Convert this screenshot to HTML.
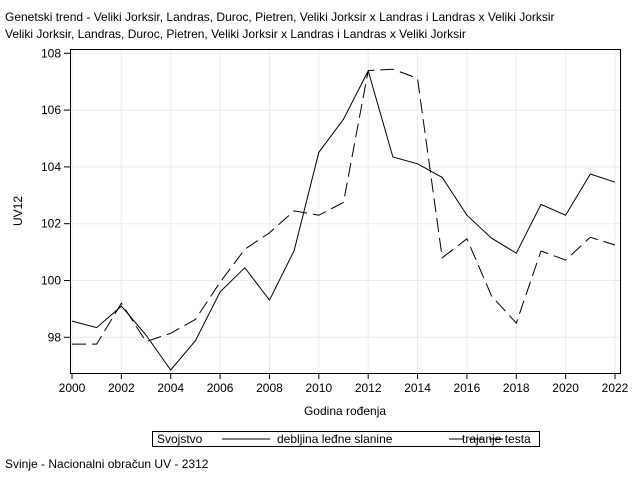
<!DOCTYPE html>
<html><head><meta charset="utf-8"><style>
body{margin:0;background:#fff;font-family:"Liberation Sans",sans-serif;}
svg text{font-family:"Liberation Sans",sans-serif;fill:#000;}
</style></head><body>
<svg id="chart" width="640" height="480" xmlns="http://www.w3.org/2000/svg">
<text x="5" y="21" font-size="12">Genetski trend - Veliki Jorksir, Landras, Duroc, Pietren, Veliki Jorksir x Landras i Landras x Veliki Jorksir</text>
<text x="5" y="38" font-size="12">Veliki Jorksir, Landras, Duroc, Pietren, Veliki Jorksir x Landras i Landras x Veliki Jorksir</text>
<g id="grid"></g>
<g id="series"></g>
<rect x="70.5" y="49.5" width="550" height="324" fill="none" stroke="#000" stroke-width="1"/>
<g id="xaxis"></g>
<g id="yaxis"></g>
<text x="345" y="415" font-size="12" text-anchor="middle">Godina rođenja</text>
<text x="22" y="211" font-size="12" text-anchor="middle" transform="rotate(-90 22 211)">UV12</text>
<g>
<rect x="152.5" y="431.5" width="387" height="15" fill="none" stroke="#000"/>
<text x="157" y="443" font-size="12">Svojstvo</text>
<line x1="222" y1="439" x2="270" y2="439" stroke="#000"/>
<text x="277" y="443" font-size="12">debljina leđne slanine</text>
<line x1="312" y1="439" x2="372" y2="439" stroke="#000" stroke-dasharray="14,6" transform="translate(137,0)"/>
<text x="462" y="443" font-size="12">trajanje testa</text>
</g>
<text x="5" y="468" font-size="12">Svinje - Nacionalni obračun UV - 2312</text>
</svg>
<script>
const years=[2000,2001,2002,2003,2004,2005,2006,2007,2008,2009,2010,2011,2012,2013,2014,2015,2016,2017,2018,2019,2020,2021,2022];
const debljina=[98.57,98.34,99.1,98.08,96.85,97.88,99.6,100.45,99.31,101.05,104.51,105.68,107.38,104.35,104.11,103.63,102.3,101.49,100.96,102.68,102.3,103.75,103.46];
const trajanje=[97.76,97.76,99.2,97.85,98.14,98.63,99.94,101.1,101.68,102.45,102.3,102.75,107.39,107.44,107.12,100.8,101.47,99.45,98.5,101.04,100.72,101.52,101.25];
const xTicks=[2000,2002,2004,2006,2008,2010,2012,2014,2016,2018,2020,2022];
const yTicks=[98,100,102,104,106,108];
const NS="http://www.w3.org/2000/svg";
function xs(v){return 72+(v-2000)*(615-72)/22;}
function ys(v){return 337.3-(v-98)*28.4;}
function mk(t,a,p){const e=document.createElementNS(NS,t);for(const k in a)e.setAttribute(k,a[k]);p.appendChild(e);return e;}
const grid=document.getElementById('grid'),xa=document.getElementById('xaxis'),ya=document.getElementById('yaxis'),se=document.getElementById('series');
xTicks.forEach(t=>{const x=xs(t);
const g=mk('line',{x1:x,y1:50,x2:x,y2:373,stroke:'#ebebeb'},grid);


const k=mk('line',{x1:x,y1:373,x2:x,y2:379,stroke:'#000'},xa);


const l=mk('text',{x:x,y:392,'font-size':12,'text-anchor':'middle'},xa);l.textContent=t;

});
yTicks.forEach(t=>{const y=ys(t);
const g=mk('line',{x1:71,y1:y,x2:620,y2:y,stroke:'#ebebeb'},grid);


const k=mk('line',{x1:64,y1:y,x2:70,y2:y,stroke:'#000'},ya);


const l=mk('text',{x:61,y:y+4,'font-size':12,'text-anchor':'end'},ya);l.textContent=t;

});
function pts(arr){return arr.map((v,i)=>xs(years[i]).toFixed(1)+','+ys(v).toFixed(1)).join(' ');}
const s1=mk('polyline',{points:pts(debljina),fill:'none',stroke:'#000','stroke-width':1},se);


const s2=mk('polyline',{points:pts(trajanje),fill:'none',stroke:'#000','stroke-width':1,'stroke-dasharray':'14,6'},se);


</script>
</body></html>
